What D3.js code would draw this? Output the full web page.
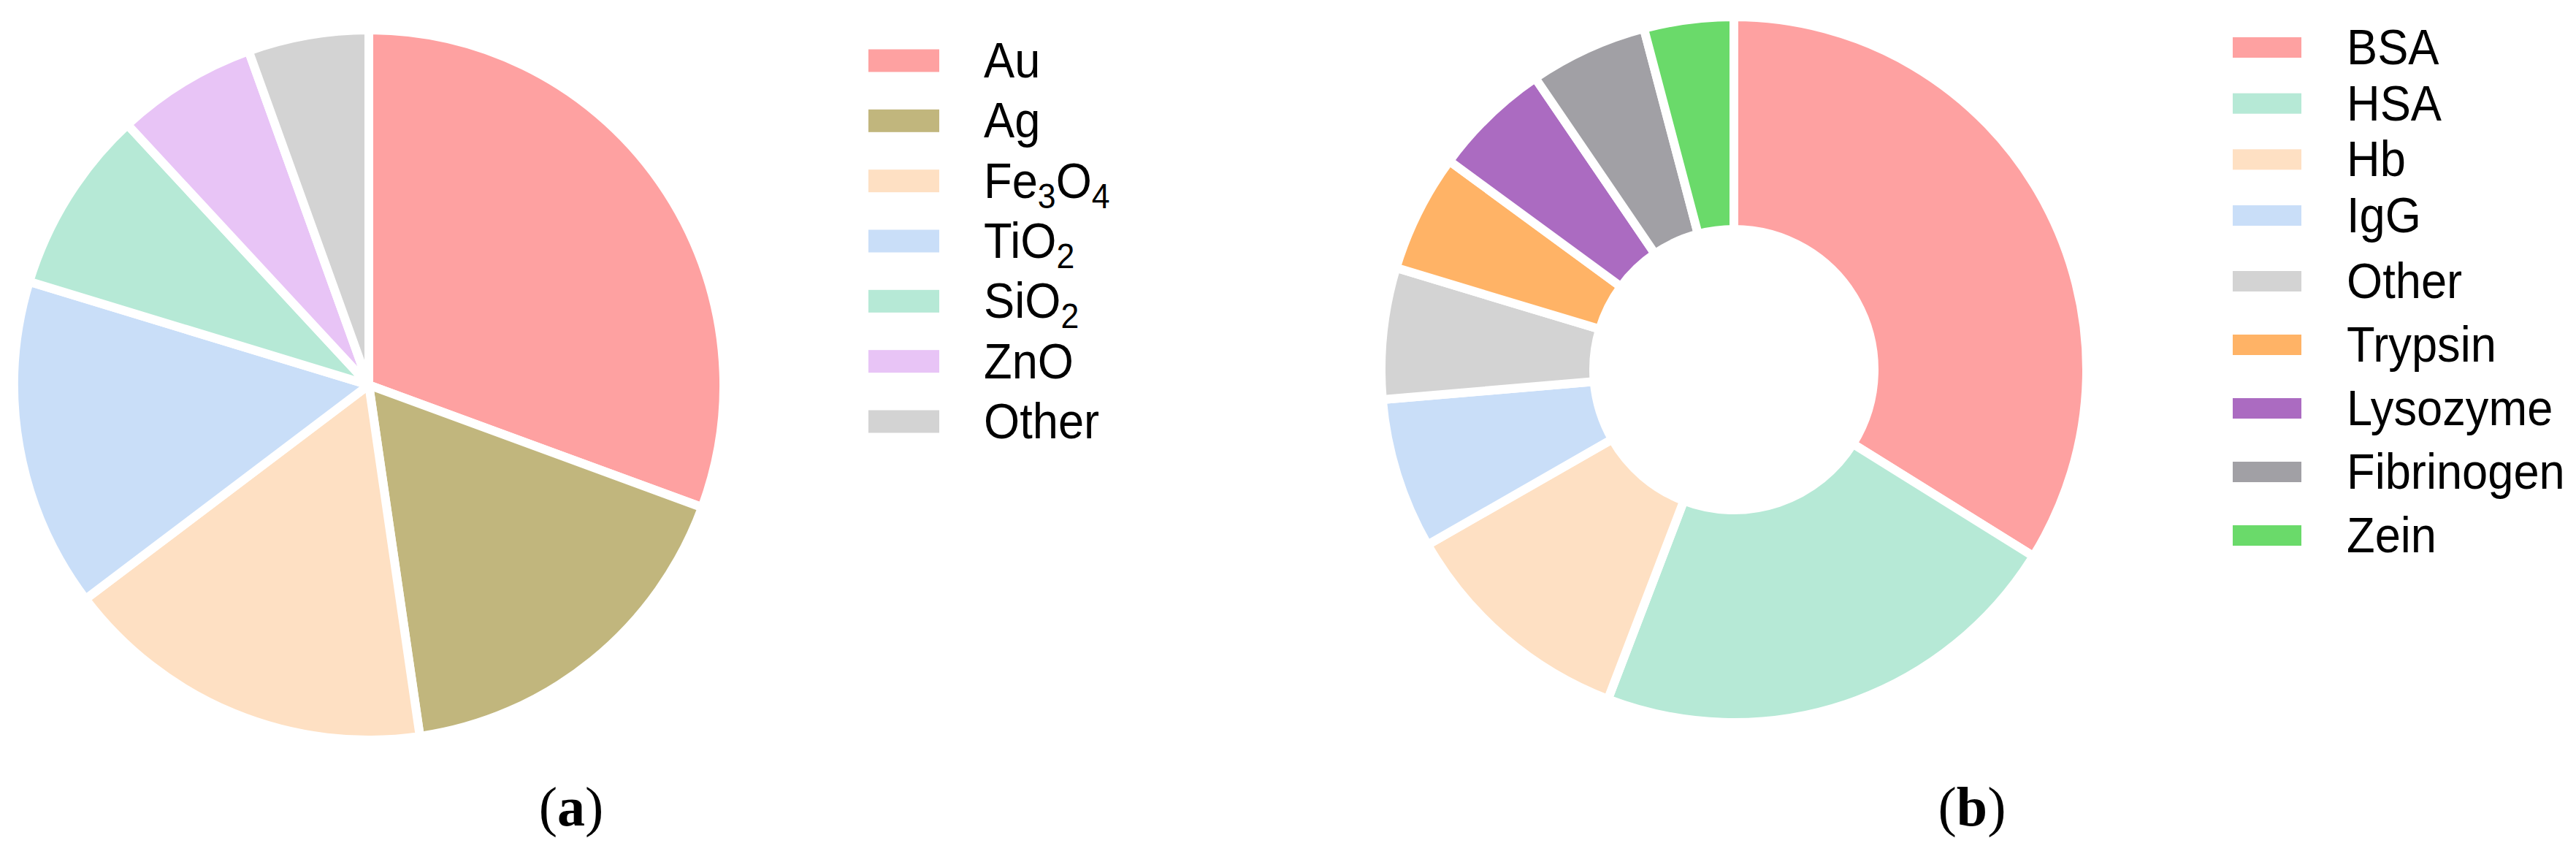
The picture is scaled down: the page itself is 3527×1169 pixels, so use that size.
<!DOCTYPE html>
<html lang="en">
<head>
    <meta charset="UTF-8">
    <title>Nanoparticles and proteins</title>
    <script src="https://d3js.org/d3.v7.min.js"></script>
    <style>
        body { margin: 0; background: #fff; }
        .legend text { font-family: "Liberation Sans", Arial, sans-serif; font-size: 68px; fill: #000; }
        .caption { font-family: "Liberation Serif", "Times New Roman", serif; font-size: 76px; fill: #000; }
    </style>
</head>
<body>
<svg id="chart" width="3527" height="1169"></svg>

<script>
    // Panel (a): nanoparticle types (share in %)
    const npNames = ["Au", "Ag", "Fe3O4", "TiO2", "SiO2", "ZnO", "Other"];
    const npValues = [30.6, 17.1, 17.0, 15.0, 8.4, 6.4, 5.5];
    const npColors = ["#fea1a1", "#c1b67d", "#fee0c3", "#c9def8", "#b6e9d6", "#e8c4f6", "#d3d3d3"];
    // label pieces: [text, isSubscript]
    const npLabels = [
        [["Au", 0]],
        [["Ag", 0]],
        [["Fe", 0], ["3", 1], ["O", 0], ["4", 1]],
        [["TiO", 0], ["2", 1]],
        [["SiO", 0], ["2", 1]],
        [["ZnO", 0]],
        [["Other", 0]]
    ];

    // Panel (b): proteins (share in %)
    const protNames = ["BSA", "HSA", "Hb", "IgG", "Other", "Trypsin", "Lysozyme", "Fibrinogen", "Zein"];
    const protValues = [33.8, 21.9, 10.9, 6.9, 6.0, 5.4, 5.4, 5.4, 4.1];
    const protColors = ["#fea1a1", "#b6e9d6", "#fee0c3", "#c9def8", "#d3d3d3", "#ffb366", "#ab6bc1", "#a1a0a5", "#6ada6a"];

    const svg = d3.select("#chart");

    const pie = d3.pie().sort(null).value(d => d);

    // Draws a pie (or donut when inner > 0) centred at cx, cy.
    function drawPie(values, colors, cx, cy, outer, inner) {
        const arc = d3.arc().innerRadius(inner).outerRadius(outer);
        svg.append("g")
            .attr("transform", `translate(${cx},${cy})`)
            .selectAll("path")
            .data(pie(values))
            .enter().append("path")
            .attr("d", arc)
            .attr("fill", (d, i) => colors[i])
            .attr("stroke", "#fff")
            .attr("stroke-width", 12)
            .attr("stroke-linejoin", "round");
    }

    // Legend: swatch then label, one row per category.
    // rowY maps a row index to its vertical centre.
    function drawLegend(labels, colors, x, rowY, swW, swH, textX) {
        const g = svg.append("g").attr("class", "legend");
        const rows = g.selectAll("g")
            .data(labels)
            .enter().append("g")
            .attr("transform", (d, i) => `translate(0,${rowY(i)})`);
        rows.append("rect")
            .attr("x", x)
            .attr("y", -swH / 2)
            .attr("width", swW)
            .attr("height", swH)
            .attr("fill", (d, i) => colors[i]);
        // glyphs in the source are a little narrower than Arial
        const txt = rows.append("text")
            .attr("transform", `translate(${textX},23) scale(0.93,1)`);
        txt.each(function(parts) {
            const t = d3.select(this);
            if (typeof parts === "string") { t.text(parts); return; }
            let shifted = false;
            parts.forEach(p => {
                const span = t.append("tspan").text(p[0]);
                if (p[1] && !shifted) { span.attr("dy", 14).style("font-size", "48px"); shifted = true; }
                else if (p[1]) { span.style("font-size", "48px"); }
                else if (shifted) { span.attr("dy", -14); shifted = false; }
            });
        });
    }

    drawPie(npValues, npColors, 505, 527, 486, 0);
    const npY = d3.scalePoint().domain(d3.range(npLabels.length)).range([83, 577]);
    drawLegend(npLabels, npColors, 1189, npY, 97, 31, 1347);

    drawPie(protValues, protColors, 2374, 506, 483, 192);
    // the protein legend is spaced a bit tighter in its first four rows
    const protTop = d3.scalePoint().domain(d3.range(4)).range([65, 295]);
    const protBottom = d3.scalePoint().domain(d3.range(4, protNames.length)).range([385, 733]);
    drawLegend(protNames, protColors, 3057, i => i < 4 ? protTop(i) : protBottom(i), 94, 28, 3213);

    // Panel captions
    const captions = [["a", 782], ["b", 2700]];
    captions.forEach(c => {
        const t = svg.append("text")
            .attr("class", "caption")
            .attr("x", c[1])
            .attr("y", 1130)
            .attr("text-anchor", "middle");
        t.append("tspan").text("(");
        t.append("tspan").attr("font-weight", "bold").text(c[0]);
        t.append("tspan").text(")");
    });
</script>
</body>
</html>
